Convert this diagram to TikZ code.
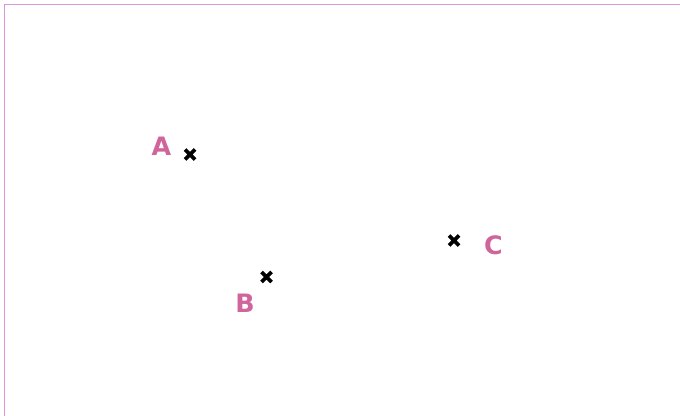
\documentclass[tikz,border=0pt]{standalone}
\usepackage{fontspec}
\setmainfont{DejaVu Sans}
\usetikzlibrary{shapes.misc}
\definecolor{framec}{HTML}{DA96DA}
\definecolor{labelc}{HTML}{D0659C}
\tikzset{
    xmark/.style={cross out,draw=black,line width=2.9pt,minimum size=4.6pt,inner sep=0pt},
    ptlabel/.style={text=labelc,font=\fontsize{19}{21}\selectfont\bfseries,inner sep=0pt}
}
\begin{document}
\begin{tikzpicture}[x=0.75pt,y=-0.75pt]
    \useasboundingbox (0,0) rectangle (680,416);
    % frame
    \draw[framec,line width=1.2pt] (4.5,416) -- (4.5,4.5) -- (680,4.5);
    % points
    \node[xmark] (pA) at (190,154.5) {};
    \node[xmark] (pB) at (266.5,277) {};
    \node[xmark] (pC) at (454,240.5) {};
    \node[ptlabel] (lA) at (161.5,146) {A};
    \node[ptlabel] (lB) at (245,303) {B};
    \node[ptlabel] (lC) at (493.5,245) {C};
\end{tikzpicture}
\end{document}
